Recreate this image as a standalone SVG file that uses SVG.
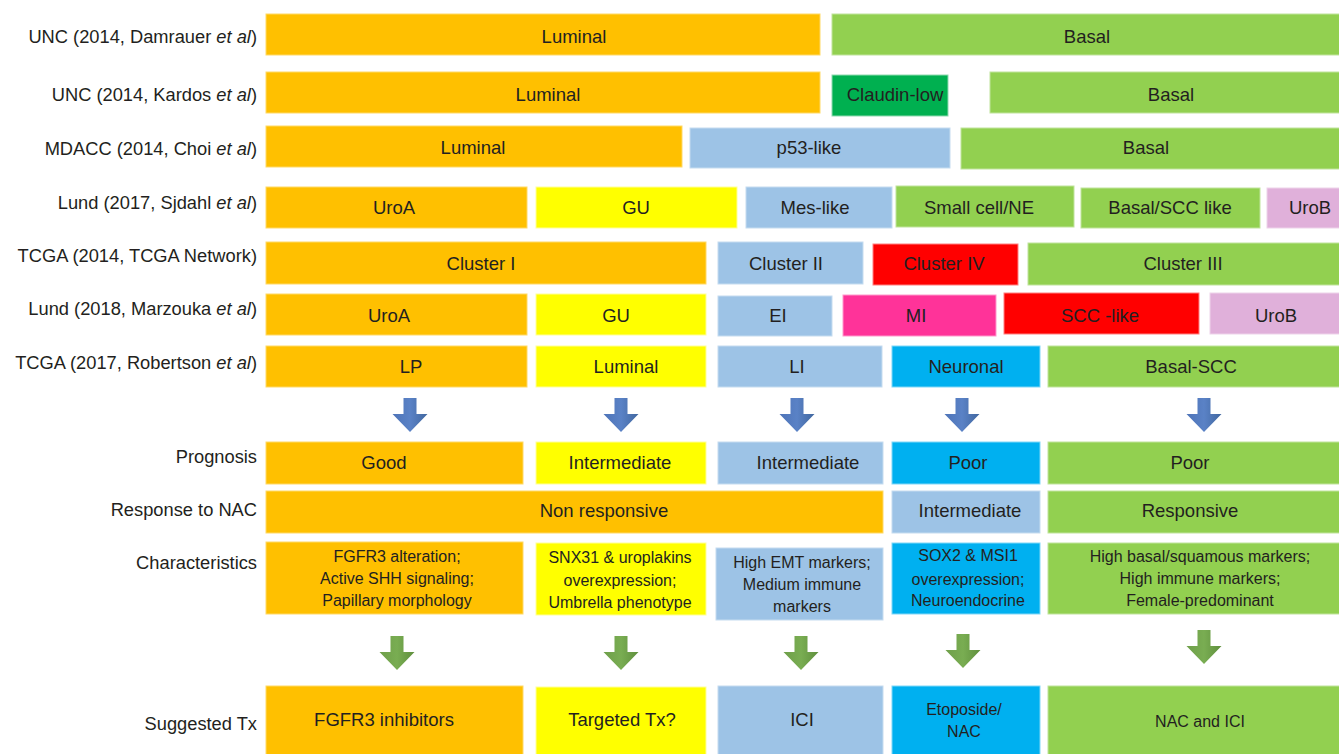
<svg xmlns="http://www.w3.org/2000/svg" width="1339" height="754" viewBox="0 0 1339 754">
<style>
text{font-family:"Liberation Sans",Arial,sans-serif;fill:#231f20}
.lab{font-size:18.3px;text-anchor:end}
.t{font-size:18.5px;text-anchor:middle}
.s{font-size:16px;text-anchor:middle}
rect{stroke-width:1}
.or{fill:#FFC000;stroke:#ffd966}
.ye{fill:#FFFF00;stroke:#ffff99}
.lb{fill:#9DC3E6;stroke:#c5dcf0}
.gr{fill:#92D050;stroke:#c0e49c}
.dg{fill:#00B050;stroke:#8fd9b0}
.rd{fill:#FF0000;stroke:#ff8080}
.pk{fill:#FF3399;stroke:#ff99cc}
.lv{fill:#E0B0DA;stroke:#eed3ea}
.cy{fill:#00B0F0;stroke:#80d7f7}
</style>
<defs>
<linearGradient id="bg" x1="0" y1="0" x2="1" y2="0"><stop offset="0" stop-color="#4e74b8"/><stop offset="0.5" stop-color="#5a82c6"/><stop offset="1" stop-color="#41679f"/></linearGradient>
<linearGradient id="gg" x1="0" y1="0" x2="1" y2="0"><stop offset="0" stop-color="#6f9f4a"/><stop offset="0.5" stop-color="#79ad52"/><stop offset="1" stop-color="#5f8f3d"/></linearGradient>
<path id="ab" d="M-6.5,0 h13 v16 h11 l-17.5,18 l-17.5,-18 h11 z" fill="url(#bg)"/>
<path id="ag" d="M-6.5,0 h13 v16 h11 l-17.5,18 l-17.5,-18 h11 z" fill="url(#gg)"/>
</defs>

<g id="labels">
<text class="lab" x="257" y="43">UNC (2014, Damrauer <tspan font-style="italic">et al</tspan>)</text>
<text class="lab" x="257" y="101">UNC (2014, Kardos <tspan font-style="italic">et al</tspan>)</text>
<text class="lab" x="257" y="155">MDACC (2014, Choi <tspan font-style="italic">et al</tspan>)</text>
<text class="lab" x="257" y="209">Lund (2017, Sjdahl <tspan font-style="italic">et al</tspan>)</text>
<text class="lab" x="257" y="262">TCGA (2014, TCGA Network)</text>
<text class="lab" x="257" y="315">Lund (2018, Marzouka <tspan font-style="italic">et al</tspan>)</text>
<text class="lab" x="257" y="369">TCGA (2017, Robertson <tspan font-style="italic">et al</tspan>)</text>
<text class="lab" x="257" y="463">Prognosis</text>
<text class="lab" x="257" y="516">Response to NAC</text>
<text class="lab" x="257" y="569">Characteristics</text>
<text class="lab" x="257" y="730">Suggested Tx</text>
</g>

<g id="row1">
<g id="r1-luminal"><rect class="or" x="266" y="14" width="554" height="41"/><text class="t" x="574" y="43">Luminal</text></g>
<g id="r1-basal"><rect class="gr" x="832" y="14" width="508" height="41"/><text class="t" x="1087" y="43">Basal</text></g>
</g>
<g id="row2">
<g id="r2-luminal"><rect class="or" x="266" y="72" width="554" height="41"/><text class="t" x="548" y="101">Luminal</text></g>
<g id="r2-claudin"><rect class="dg" x="832" y="75" width="116" height="41"/><text class="t" x="895" y="101">Claudin-low</text></g>
<g id="r2-basal"><rect class="gr" x="990" y="72" width="350" height="41"/><text class="t" x="1171" y="101">Basal</text></g>
</g>
<g id="row3">
<g id="r3-luminal"><rect class="or" x="266" y="126" width="416" height="41"/><text class="t" x="473" y="154">Luminal</text></g>
<g id="r3-p53"><rect class="lb" x="690" y="128" width="260" height="40"/><text class="t" x="809" y="154">p53-like</text></g>
<g id="r3-basal"><rect class="gr" x="961" y="128" width="379" height="41"/><text class="t" x="1146" y="154">Basal</text></g>
</g>
<g id="row4">
<g id="r4-uroa"><rect class="or" x="266" y="187" width="261" height="41"/><text class="t" x="394" y="214">UroA</text></g>
<g id="r4-gu"><rect class="ye" x="536" y="187" width="201" height="41"/><text class="t" x="636" y="214">GU</text></g>
<g id="r4-mes"><rect class="lb" x="746" y="187" width="146" height="41"/><text class="t" x="815" y="214">Mes-like</text></g>
<g id="r4-small"><rect class="gr" x="896" y="186" width="178" height="41"/><text class="t" x="979" y="214">Small cell/NE</text></g>
<g id="r4-basal"><rect class="gr" x="1081" y="188" width="179" height="40"/><text class="t" x="1170" y="214">Basal/SCC like</text></g>
<g id="r4-urob"><rect class="lv" x="1267" y="188" width="73" height="40"/><text class="t" x="1310" y="214">UroB</text></g>
</g>
<g id="row5">
<g id="r5-c1"><rect class="or" x="266" y="242" width="440" height="42"/><text class="t" x="481" y="270">Cluster I</text></g>
<g id="r5-c2"><rect class="lb" x="718" y="242" width="145" height="42"/><text class="t" x="786" y="270">Cluster II</text></g>
<g id="r5-c4"><rect class="rd" x="873" y="244" width="145" height="41"/><text class="t" x="944" y="270">Cluster IV</text></g>
<g id="r5-c3"><rect class="gr" x="1028" y="243" width="312" height="42"/><text class="t" x="1183" y="270">Cluster III</text></g>
</g>
<g id="row6">
<g id="r6-uroa"><rect class="or" x="266" y="294" width="261" height="41"/><text class="t" x="389" y="322">UroA</text></g>
<g id="r6-gu"><rect class="ye" x="536" y="294" width="170" height="41"/><text class="t" x="616" y="322">GU</text></g>
<g id="r6-ei"><rect class="lb" x="718" y="296" width="114" height="40"/><text class="t" x="778" y="322">EI</text></g>
<g id="r6-mi"><rect class="pk" x="843" y="295" width="153" height="41"/><text class="t" x="916" y="322">MI</text></g>
<g id="r6-scc"><rect class="rd" x="1004" y="293" width="195" height="41"/><text class="t" x="1100" y="322">SCC -like</text></g>
<g id="r6-urob"><rect class="lv" x="1210" y="293" width="130" height="41"/><text class="t" x="1276" y="322">UroB</text></g>
</g>
<g id="row7">
<g id="r7-lp"><rect class="or" x="266" y="346" width="261" height="41"/><text class="t" x="411" y="373">LP</text></g>
<g id="r7-lum"><rect class="ye" x="536" y="346" width="170" height="41"/><text class="t" x="626" y="373">Luminal</text></g>
<g id="r7-li"><rect class="lb" x="718" y="346" width="164" height="41"/><text class="t" x="797" y="373">LI</text></g>
<g id="r7-neu"><rect class="cy" x="892" y="346" width="148" height="41"/><text class="t" x="966" y="373">Neuronal</text></g>
<g id="r7-bscc"><rect class="gr" x="1048" y="346" width="292" height="41"/><text class="t" x="1191" y="373">Basal-SCC</text></g>
</g>

<g id="connectors">
<use href="#ab" x="410" y="398"/>
<use href="#ab" x="621" y="398"/>
<use href="#ab" x="797" y="398"/>
<use href="#ab" x="962" y="398"/>
<use href="#ab" x="1204" y="398"/>
<use href="#ag" x="397" y="636"/>
<use href="#ag" x="621" y="636"/>
<use href="#ag" x="801" y="636"/>
<use href="#ag" x="963" y="634"/>
<use href="#ag" x="1204" y="630"/>
</g>

<g id="prognosis">
<g id="p1"><rect class="or" x="266" y="442" width="257" height="42"/><text class="t" x="384" y="469">Good</text></g>
<g id="p2"><rect class="ye" x="536" y="442" width="170" height="42"/><text class="t" x="620" y="469">Intermediate</text></g>
<g id="p3"><rect class="lb" x="718" y="442" width="165" height="42"/><text class="t" x="808" y="469">Intermediate</text></g>
<g id="p4"><rect class="cy" x="892" y="442" width="148" height="42"/><text class="t" x="968" y="469">Poor</text></g>
<g id="p5"><rect class="gr" x="1048" y="442" width="292" height="42"/><text class="t" x="1190" y="469">Poor</text></g>
</g>
<g id="nac">
<g id="n1"><rect class="or" x="266" y="491" width="617" height="42"/><text class="t" x="604" y="517">Non responsive</text></g>
<g id="n2"><rect class="lb" x="892" y="491" width="148" height="42"/><text class="t" x="970" y="517">Intermediate</text></g>
<g id="n3"><rect class="gr" x="1048" y="491" width="292" height="42"/><text class="t" x="1190" y="517">Responsive</text></g>
</g>
<g id="characteristics">
<g id="c1"><rect class="or" x="266" y="542" width="257" height="72"/>
<text class="s" x="397" y="562">FGFR3 alteration;</text><text class="s" x="397" y="584">Active SHH signaling;</text><text class="s" x="397" y="606">Papillary morphology</text></g>
<g id="c2"><rect class="ye" x="536" y="543" width="170" height="72"/>
<text class="s" x="620" y="563">SNX31 &amp; uroplakins</text><text class="s" x="620" y="586">overexpression;</text><text class="s" x="620" y="608">Umbrella phenotype</text></g>
<g id="c3"><rect class="lb" x="716" y="548" width="167" height="72"/>
<text class="s" x="802" y="568">High EMT markers;</text><text class="s" x="802" y="590">Medium immune</text><text class="s" x="802" y="612">markers</text></g>
<g id="c4"><rect class="cy" x="892" y="543" width="148" height="71"/>
<text class="s" x="968" y="561">SOX2 &amp; MSI1</text><text class="s" x="968" y="585">overexpression;</text><text class="s" x="968" y="606">Neuroendocrine</text></g>
<g id="c5"><rect class="gr" x="1048" y="543" width="292" height="71"/>
<text class="s" x="1200" y="562">High basal/squamous markers;</text><text class="s" x="1200" y="584">High immune markers;</text><text class="s" x="1200" y="606">Female-predominant</text></g>
</g>
<g id="treatment">
<g id="tx1"><rect class="or" x="266" y="686" width="257" height="69"/><text class="t" x="384" y="726">FGFR3 inhibitors</text></g>
<g id="tx2"><rect class="ye" x="536" y="687" width="170" height="68"/><text class="t" x="622" y="726">Targeted Tx?</text></g>
<g id="tx3"><rect class="lb" x="718" y="686" width="165" height="69"/><text class="t" x="802" y="726">ICI</text></g>
<g id="tx4"><rect class="cy" x="892" y="686" width="148" height="69"/><text class="s" x="964" y="715">Etoposide/</text><text class="s" x="964" y="737">NAC</text></g>
<g id="tx5"><rect class="gr" x="1048" y="686" width="292" height="69"/><text class="s" x="1200" y="727">NAC and ICI</text></g>
</g>
</svg>
